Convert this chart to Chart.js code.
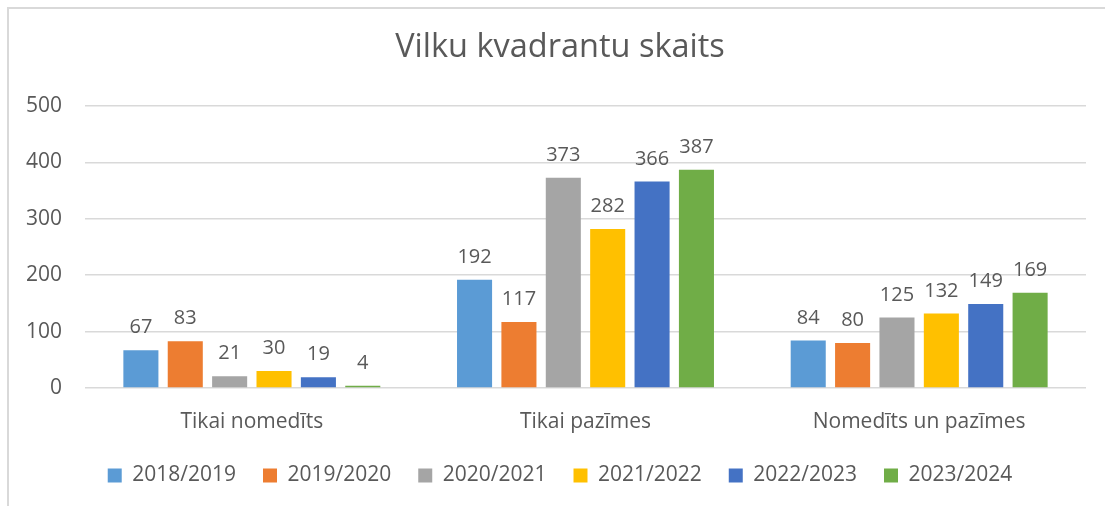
<!DOCTYPE html>
<html>
<head>
<meta charset="utf-8">
<script src="https://cdn.jsdelivr.net/npm/chart.js@4/dist/chart.umd.min.js"></script>
<style>
  html, body { margin: 0; padding: 0; background: #ffffff; }
  #wrap { width: 1105px; height: 506px; position: relative; }
</style>
</head>
<body>
<div id="wrap"><canvas id="c" width="1105" height="506"></canvas></div>
<script>
const title = "Vilku kvadrantu skaits";
const categories = ["Tikai nomedīts", "Tikai pazīmes", "Nomedīts un pazīmes"];
const seriesNames = ["2018/2019", "2019/2020", "2020/2021", "2021/2022", "2022/2023", "2023/2024"];
const s2018 = [67, 192, 84];
const s2019 = [83, 117, 80];
const s2020 = [21, 373, 125];
const s2021 = [30, 282, 132];
const s2022 = [19, 366, 149];
const s2023 = [4, 387, 169];
const seriesValues = [s2018, s2019, s2020, s2021, s2022, s2023];
const seriesColors = ["#5B9BD5", "#ED7D31", "#A5A5A5", "#FFC000", "#4472C4", "#70AD47"];
const yTicks = [0, 100, 200, 300, 400, 500];

const FONT = "'Open Sans', 'Liberation Sans', sans-serif";
const TEXT = "#595959";

const framePlugin = {
  id: 'frame',
  beforeDraw(chart) {
    const ctx = chart.ctx;
    ctx.save();
    ctx.fillStyle = '#ffffff';
    ctx.fillRect(0, 0, chart.width, chart.height);
    ctx.strokeStyle = '#d9d9d9';
    ctx.lineWidth = 2;
    ctx.beginPath();
    ctx.moveTo(8, chart.height);
    ctx.lineTo(8, 8);
    ctx.lineTo(chart.width, 8);
    ctx.stroke();
    ctx.restore();
  }
};

const labelPlugin = {
  id: 'barLabels',
  afterDatasetsDraw(chart) {
    const ctx = chart.ctx;
    ctx.save();
    ctx.font = "20px " + FONT;
    ctx.fillStyle = TEXT;
    ctx.textAlign = 'center';
    ctx.textBaseline = 'alphabetic';
    chart.data.datasets.forEach((ds, i) => {
      const meta = chart.getDatasetMeta(i);
      meta.data.forEach((bar, j) => {
        ctx.fillText(String(ds.data[j]), bar.x, bar.y - 17);
      });
    });
    ctx.restore();
  }
};

new Chart(document.getElementById('c'), {
  type: 'bar',
  data: {
    labels: categories,
    datasets: seriesNames.map((name, i) => ({
      label: name,
      data: seriesValues[i],
      backgroundColor: seriesColors[i],
      borderWidth: 0,
      categoryPercentage: 0.798,
      barPercentage: 0.79
    }))
  },
  options: {
    responsive: false,
    animation: false,
    events: [],
    layout: { padding: { left: 34, right: 19, top: 0, bottom: 10 } },
    plugins: {
      title: {
        display: true,
        text: title,
        color: TEXT,
        font: { family: FONT, size: 32.5, weight: 'normal', lineHeight: 1.2 },
        padding: { top: 28, bottom: 39 }
      },
      legend: {
        position: 'bottom',
        labels: {
          color: TEXT,
          font: { family: FONT, size: 21 },
          boxWidth: 14,
          boxHeight: 14,
          padding: 27
        }
      },
      tooltip: { enabled: false }
    },
    scales: {
      x: {
        grid: { display: false },
        border: { display: false },
        ticks: { color: TEXT, font: { family: FONT, size: 21 }, padding: 13 },
        afterFit(scale) { scale.height = 50; }
      },
      y: {
        min: 0,
        max: 500,
        afterBuildTicks(scale) { scale.ticks = yTicks.map(v => ({ value: v })); },
        grid: { color: '#d9d9d9', lineWidth: 1.5, drawTicks: false },
        border: { display: false },
        ticks: { color: TEXT, font: { family: FONT, size: 21 }, mirror: true, crossAlign: 'far', padding: -59 },
        afterFit(scale) { scale.width = 51; }
      }
    }
  },
  plugins: [framePlugin, labelPlugin]
});
</script>
</body>
</html>
